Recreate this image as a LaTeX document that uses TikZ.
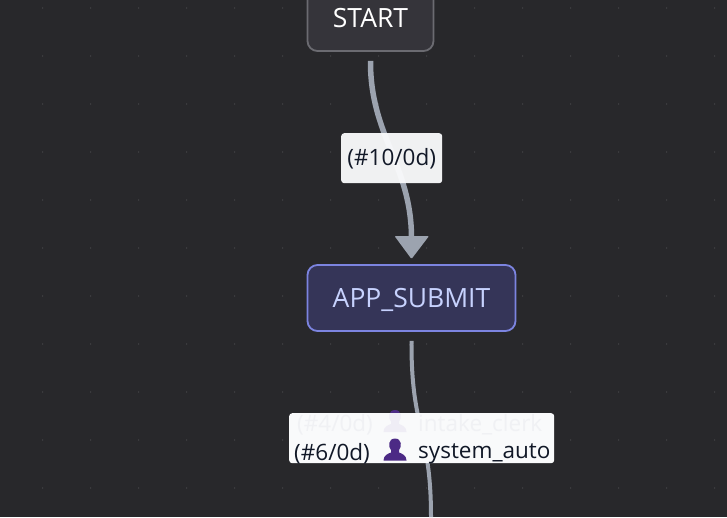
\documentclass[tikz,border=0pt]{standalone}
\usepackage{fontspec}
\setmainfont{Open Sans}
\definecolor{bgc}{HTML}{28282B}
\definecolor{dotc}{HTML}{454548}
\definecolor{edgec}{HTML}{9CA3AF}
\definecolor{startfill}{HTML}{35343A}
\definecolor{startline}{HTML}{6B6B71}
\definecolor{appfill}{HTML}{353558}
\definecolor{appline}{HTML}{7C84E0}
\definecolor{apptext}{HTML}{C7D2FE}
\definecolor{labfill}{HTML}{F9FAFB}
\definecolor{labtext}{HTML}{111827}
\definecolor{faint}{HTML}{F0F1F4}
\definecolor{personc}{HTML}{4C2A85}
\definecolor{personf}{HTML}{EFEDF5}
\tikzset{
  x=1pt,y=-1pt,
  flownode/.style={rounded corners=10pt,line width=1.8pt,minimum height=66pt,inner sep=0pt,text height=19pt,text depth=0pt,font=\fontsize{26.5}{30}\selectfont},
  lab/.style={inner sep=0pt,font=\fontsize{22.5}{26}\selectfont,text=labtext},
  flab/.style={lab,text=faint},
  edgeline/.style={draw=edgec,line cap=butt},
}
\newcommand{\personicon}[2]{%
  \fill[#2,shift={(#1)}] (-11.5,9.5) .. controls (-11.5,4.5) and (-7,2.5) .. (-4,1.5)
    -- (-4,-1) .. controls (-7,-4) and (-7,-12.5) .. (0,-12.5)
    .. controls (7,-12.5) and (7,-4) .. (4,-1) -- (4,1.5)
    .. controls (7,2.5) and (11.5,4.5) .. (11.5,9.5) -- cycle;}
\begin{document}
\begin{tikzpicture}
\useasboundingbox (0,0) rectangle (727,517);
\clip (0,0) rectangle (727,517);
\fill[bgc] (0,0) rectangle (727,517);
\foreach \i in {0,...,14}{\foreach \j in {0,...,10}{
  \fill[dotc] ({42.6+48*\i},{8+48*\j}) circle (0.8);}}
\node[flownode,draw=startline,fill=startfill,minimum width=126pt,text=white] (start) at (370.5,18) {START};
\node[flownode,draw=appline,fill=appfill,minimum width=208pt,text=apptext] (app) at (411.5,298) {APP\_SUBMIT};
\coordinate (e1s) at ([yshift=-9pt]start.south);
\coordinate (e1e) at ([yshift=27pt]app.north);
\coordinate (e2s) at ([yshift=-9pt]app.south);
\coordinate (e2e) at (431,517);
\draw[edgeline,line width=5.5pt] (e1s) .. controls (370,135) and (411,165) .. (e1e);
\fill[edgec,rounded corners=1pt] (394.5,236) -- (429,236) -- (411.5,259) -- cycle;
\draw[edgeline,line width=4pt] (e2s) .. controls (411,430) and (431,430) .. (e2e);
\coordinate (p4) at (395,422.5);
\coordinate (p6) at (395,451);
\personicon{p4}{personc}
% first label
\node[fill=labfill,fill opacity=0.96,rounded corners=3pt,minimum width=101pt,minimum height=50pt,
  lab,text opacity=1,text height=16pt,text depth=1pt,anchor=north west] (l1) at (341,133) {(\#10/0d)};
% second label
\node[fill=labfill,rounded corners=3pt,minimum width=265pt,minimum height=50pt,anchor=north west] (l2) at (289,413) {};
\node[flab,anchor=west] (t4) at (297,424.5) {(\#4/0d)};
\node[flab,anchor=west] (u4) at (418,424.5) {intake\_clerk};
\node[lab,anchor=west] (t6) at (294,454) {(\#6/0d)};
\node[lab,anchor=west] (u6) at (418,454) {system\_auto};
\begin{scope}
\clip (289,413) rectangle (554,463);
\personicon{p4}{personf}
\end{scope}
\personicon{p6}{personc}
\end{tikzpicture}
\end{document}
